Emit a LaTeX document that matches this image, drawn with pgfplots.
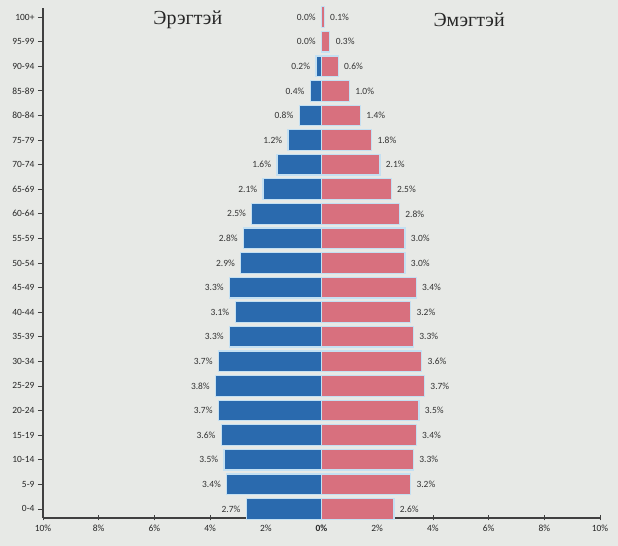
\documentclass[border=0pt]{standalone}
\usepackage{fontspec}
\setmainfont{Carlito}
\newfontfamily\titlefont{Liberation Serif}
\usepackage{pgfplots}
\pgfplotsset{compat=1.18}
\usepackage{pgfplotstable}
\definecolor{mblue}{HTML}{2A6AAE}
\definecolor{fpink}{HTML}{D8707E}
\definecolor{edge}{HTML}{C4E0F2}
\definecolor{bg}{HTML}{E7E9E6}
\pgfplotstableread{
y m f
0 2.7 2.6
1 3.4 3.2
2 3.5 3.3
3 3.6 3.4
4 3.7 3.5
5 3.8 3.7
6 3.7 3.6
7 3.3 3.3
8 3.1 3.2
9 3.3 3.4
10 2.9 3.0
11 2.8 3.0
12 2.5 2.8
13 2.1 2.5
14 1.6 2.1
15 1.2 1.8
16 0.8 1.4
17 0.4 1.0
18 0.2 0.6
19 0.0 0.3
20 0.0 0.1
}\data
\begin{document}
\begin{tikzpicture}[x=1bp,y=1bp]
\fill[bg] (0,0) rectangle (618,546);
\begin{axis}[at={(43bp,28bp)}, anchor=south west, scale only axis,
  width=557bp, height=510bp,
  xmin=-10, xmax=10, ymin=-0.37, ymax=20.37,
  axis lines=left,
  axis line style={-, black!75, line width=1.2pt},
  xtick={-10,-8,...,10},
  xticklabels={10\%,8\%,6\%,4\%,2\%,\textbf{0\%},2\%,4\%,6\%,8\%,10\%},
  ytick={0,...,20},
  yticklabels={0-4,5-9,10-14,15-19,20-24,25-29,30-34,35-39,40-44,45-49,50-54,55-59,60-64,65-69,70-74,75-79,80-84,85-89,90-94,95-99,100+},
  tick style={black!75, line width=0.8pt},
  major tick length=5bp,
  xtick align=center,
  ytick align=outside,
  tick label style={font=\fontsize{9.5}{10}\selectfont, text=black!85},
  xticklabel style={yshift=-1bp},
  /pgf/number format/assume math mode=true,
  bar width=0.84,
  nodes near coords={\pgfmathprintnumber[fixed,fixed zerofill,precision=1]{\pgfplotspointmeta}\%},
  every node near coord/.append style={font=\fontsize{9.5}{10}\selectfont, text=black!80},
  point meta=explicit,
  clip=false,
]
\addplot[xbar, bar shift=0pt, fill=mblue, draw=edge, line width=1.2pt,
  every node near coord/.append style={anchor=east, xshift=-2bp}]
  table[x expr=-\thisrow{m}, y=y, meta=m] {\data};
\addplot[xbar, bar shift=0pt, fill=fpink, draw=edge, line width=1.2pt,
  every node near coord/.append style={anchor=west, xshift=2bp}]
  table[x=f, y=y, meta=f] {\data};
\node[font=\titlefont\fontsize{20}{24}\selectfont, text=black!85] at (axis cs:-4.8,19.9) {Эрэгтэй};
\node[font=\titlefont\fontsize{20}{24}\selectfont, text=black!85] at (axis cs:5.3,19.9) {Эмэгтэй};
\end{axis}
\end{tikzpicture}
\end{document}
